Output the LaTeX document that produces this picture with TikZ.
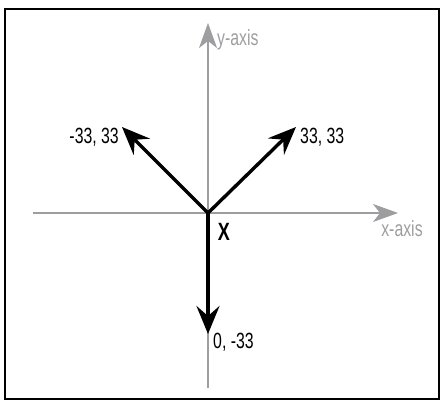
\documentclass[tikz,border=0pt]{standalone}
\usepackage{fontspec}
\setmainfont{Liberation Sans}[FakeStretch=0.72]
\usetikzlibrary{arrows.meta}
\definecolor{axisgray}{RGB}{158,158,160}

\begin{document}
\begin{tikzpicture}[x=1pt,y=1pt,>={Stealth[length=28pt,width=23pt,inset=10pt]},
		axis/.style={axisgray,line width=1.5pt,-{Stealth[length=25pt,width=18pt,inset=7pt]}},
		vec/.style={->,line width=3.4pt,black},
		lbl/.style={font=\fontsize{22}{22}\selectfont,inner sep=0pt}]
		
		\useasboundingbox (-208,-186) rectangle (233,213);
		\draw[line width=2pt] (-203,204) rectangle (231,-186);
		
		\coordinate (X) at (0,0);
		
		\draw[axis] (-175,0)--(190,0) coordinate (xend);
		\draw[axis] (0,-175)--(0,190) coordinate (yend);
		
		\node[lbl,axisgray,anchor=west] (ylabel) at (9,173) {y-axis};
		\node[lbl,axisgray] (xlabel) at (194,-16) {x-axis};
		
		\coordinate (ul) at (-86,86);
		\coordinate (ur) at (88,86);
		\coordinate (dn) at (0,-121);
		
		\draw[vec] (X)--(ul);
		\draw[vec] (X)--(ur);
		\draw[vec] (X)--(dn);
		
		\node[lbl,anchor=east] (ultext) at (-89,76) {-33, 33};
		\node[lbl,anchor=west] (urtext) at (92,76) {33, 33};
		\node[lbl,anchor=west] (dntext) at (5,-129) {0, -33};
		\node[lbl,font=\fontsize{25}{25}\selectfont\bfseries] (xtext) at (16,-19) {X};
	\end{tikzpicture}
\end{document}
